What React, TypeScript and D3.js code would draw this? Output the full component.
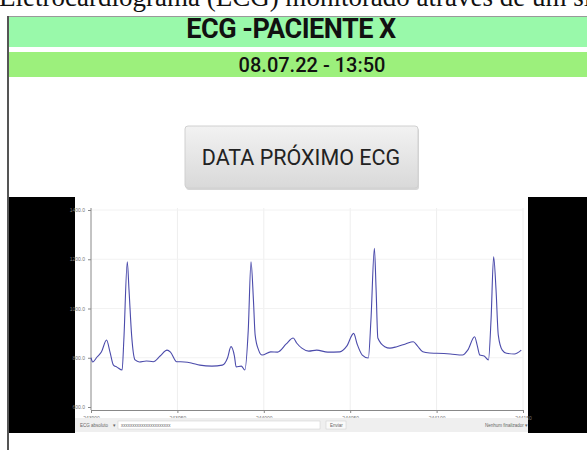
import { useEffect, useRef } from 'react';
import * as d3 from 'd3';

// ECG samples (sample index, amplitude)
const samples = [
  243900, 243901, 243903.5, 243906, 243909, 243911, 243913, 243915, 243918, 243919,
  243921, 243922, 243923.5, 243925.5, 243928, 243932, 243936, 243940, 243944, 243946,
  243949.6, 243954, 243958, 243963, 243970, 243976, 243979, 243981, 243983, 243984,
  243987, 243989, 243991, 243992.6, 243994, 243995, 243997, 243999, 244004, 244008,
  244013, 244017, 244019, 244022, 244026, 244030.6, 244037, 244044, 244048, 244052,
  244054, 244057, 244060.5, 244062, 244064, 244065, 244066, 244070, 244073, 244077,
  244082, 244086.5, 244089, 244092, 244096, 244100, 244108, 244115, 244118, 244122,
  244123.6, 244125, 244127.5, 244130, 244131.5, 244133, 244134.4, 244135.7, 244138, 244140.5,
  244145, 244149,
];
const amplitude = [
  800, 783, 803, 823, 872, 823, 770, 762, 750, 872,
  1190, 1075, 892, 791, 783, 787, 784, 807, 831, 823,
  784, 783, 779, 770, 766, 770, 799, 845, 807, 763,
  766, 750, 912, 1190, 1034, 892, 831, 811, 824, 823,
  856, 880, 860, 839, 827, 831, 823, 824, 847, 899,
  856, 811, 799, 953, 1244, 1075, 880, 845, 839, 845,
  856, 865, 847, 824, 819, 818, 815, 811, 831, 885,
  847, 811, 807, 791, 953, 1210, 1075, 892, 831, 818,
  815, 831,
];
const yTicks = [600, 800, 1000, 1200, 1400];
const xTicks = [243900, 243950, 244000, 244050, 244100, 244150];

const titleText = 'ECG -PACIENTE X';
const dateText = '08.07.22 - 13:50';
const buttonText = 'DATA PRÓXIMO ECG';
const captionText = 'Eletrocardiograma (ECG) monitorado através de um sistema';

const App = () => {
  const svgRef = useRef<SVGSVGElement>(null!);

  useEffect(() => {
    const width = 587;
    const height = 450;
    const svg = d3.select(svgRef.current);
    svg.attr('width', width).attr('height', height);

    svg.append('rect').attr('width', width).attr('height', height).attr('fill', '#fff');

    // caption cut at the top
    svg
      .append('text')
      .attr('x', -1)
      .attr('y', 6)
      .attr('font-family', '"Liberation Serif", "DejaVu Serif", serif')
      .attr('font-size', 27)
      .attr('fill', '#111')
      .text(captionText);

    // frame
    svg.append('line').attr('x1', 8).attr('x2', width).attr('y1', 16.5).attr('y2', 16.5).attr('stroke', '#999');
    svg.append('line').attr('x1', 8).attr('x2', 8).attr('y1', 16).attr('y2', height).attr('stroke', '#555').attr('stroke-width', 2);

    // header bars
    svg.append('rect').attr('x', 9).attr('y', 17).attr('width', width - 9).attr('height', 30).attr('fill', '#99f9aa');
    svg
      .append('text')
      .attr('x', 291)
      .attr('y', 38)
      .attr('text-anchor', 'middle')
      .attr('font-family', 'Roboto, sans-serif')
      .attr('font-weight', 700)
      .attr('font-size', 27)
      .attr('letter-spacing', -0.5)
      .attr('fill', '#111')
      .text(titleText);

    svg.append('rect').attr('x', 9).attr('y', 52).attr('width', width - 9).attr('height', 25).attr('fill', '#9cf07c');
    svg
      .append('text')
      .attr('x', 312)
      .attr('y', 72)
      .attr('text-anchor', 'middle')
      .attr('font-family', 'Roboto, sans-serif')
      .attr('font-weight', 500)
      .attr('font-size', 20)
      .attr('fill', '#111')
      .text(dateText);

    // button
    const grad = svg
      .append('defs')
      .append('linearGradient')
      .attr('id', 'btn')
      .attr('x1', 0)
      .attr('x2', 0)
      .attr('y1', 0)
      .attr('y2', 1);
    grad.append('stop').attr('offset', '0%').attr('stop-color', '#f2f2f2');
    grad.append('stop').attr('offset', '100%').attr('stop-color', '#d9d9d9');
    svg.append('rect').attr('x', 186).attr('y', 128).attr('width', 233).attr('height', 62).attr('rx', 3).attr('fill', '#bbb').attr('opacity', 0.6);
    svg.append('rect').attr('x', 185).attr('y', 126).attr('width', 233).attr('height', 62).attr('rx', 3).attr('fill', 'url(#btn)').attr('stroke', '#d0d0d0');
    svg
      .append('text')
      .attr('x', 301)
      .attr('y', 165)
      .attr('text-anchor', 'middle')
      .attr('font-family', 'Roboto, sans-serif')
      .attr('font-size', 21.5)
      .attr('fill', '#222')
      .text(buttonText);

    // black panel with white chart window
    svg.append('rect').attr('x', 9).attr('y', 197).attr('width', width - 9).attr('height', 236).attr('fill', '#000');
    svg.append('rect').attr('x', 75).attr('y', 197).attr('width', 453).attr('height', 236).attr('fill', '#fff');

    const x = d3.scaleLinear().domain([243900, 244150]).range([91, 523]);
    const y = d3.scaleLinear().domain([600, 1400]).range([407, 210]);

    // grid
    svg
      .append('g')
      .selectAll('line')
      .data(xTicks.slice(1))
      .enter()
      .append('line')
      .attr('x1', d => x(d))
      .attr('x2', d => x(d))
      .attr('y1', 208)
      .attr('y2', 410)
      .attr('stroke', '#eee');
    svg
      .append('g')
      .selectAll('line')
      .data(yTicks.slice(1))
      .enter()
      .append('line')
      .attr('x1', 91)
      .attr('x2', 523)
      .attr('y1', d => y(d))
      .attr('y2', d => y(d))
      .attr('stroke', '#f2f2f2');

    const xAxis = d3.axisBottom(x).tickValues(xTicks).tickFormat(d => String(d)).tickSize(3).tickSizeOuter(0);
    const yAxis = d3.axisLeft(y).tickValues(yTicks).tickFormat(d => d3.format('.1f')(d as number)).tickSize(3).tickSizeOuter(0);
    const gx = svg.append('g').attr('transform', 'translate(0,410)').call(xAxis);
    const gy = svg.append('g').attr('transform', 'translate(91,0)').call(yAxis);
    [gx, gy].forEach(g => {
      g.select('.domain').attr('stroke', '#888');
      g.selectAll('.tick line').attr('stroke', '#888');
      g.selectAll('.tick text').attr('fill', '#777').attr('font-size', 5).attr('font-family', 'Arial, sans-serif');
    });
    gy.select('.domain').attr('d', 'M0,208V410');

    const line = d3
      .line<number>()
      .x((_, i) => x(samples[i]))
      .y(d => y(d))
      .curve(d3.curveMonotoneX);
    svg
      .append('path')
      .datum(amplitude)
      .attr('d', line)
      .attr('fill', 'none')
      .attr('stroke', '#4b4bab')
      .attr('stroke-width', 1.1);

    // control bar
    svg.append('rect').attr('x', 75).attr('y', 418).attr('width', 453).attr('height', 14).attr('fill', '#efefef');
    const small = (tx: number, t: string) =>
      svg
        .append('text')
        .attr('x', tx)
        .attr('y', 427)
        .attr('font-size', 4.5)
        .attr('font-family', 'Arial, sans-serif')
        .attr('fill', '#666')
        .text(t);
    small(80, 'ECG absoluto');
    small(113, '▾');
    svg.append('rect').attr('x', 118).attr('y', 421).attr('width', 202).attr('height', 8).attr('fill', '#fff').attr('stroke', '#ccc').attr('stroke-width', 0.5);
    small(121, 'xxxxxxxxxxxxxxxxxxxxxx');
    svg.append('rect').attr('x', 326).attr('y', 421).attr('width', 20).attr('height', 8).attr('fill', '#fafafa').attr('stroke', '#ccc').attr('stroke-width', 0.5);
    small(330, 'Enviar');
    small(485, 'Nenhum finalizador ▾');

    return () => {
      svgRef.current.innerHTML = '';
    };
  }, []);

  return <svg ref={svgRef} style={{ position: 'absolute', left: 0, top: 0 }}></svg>;
};

export default App;
